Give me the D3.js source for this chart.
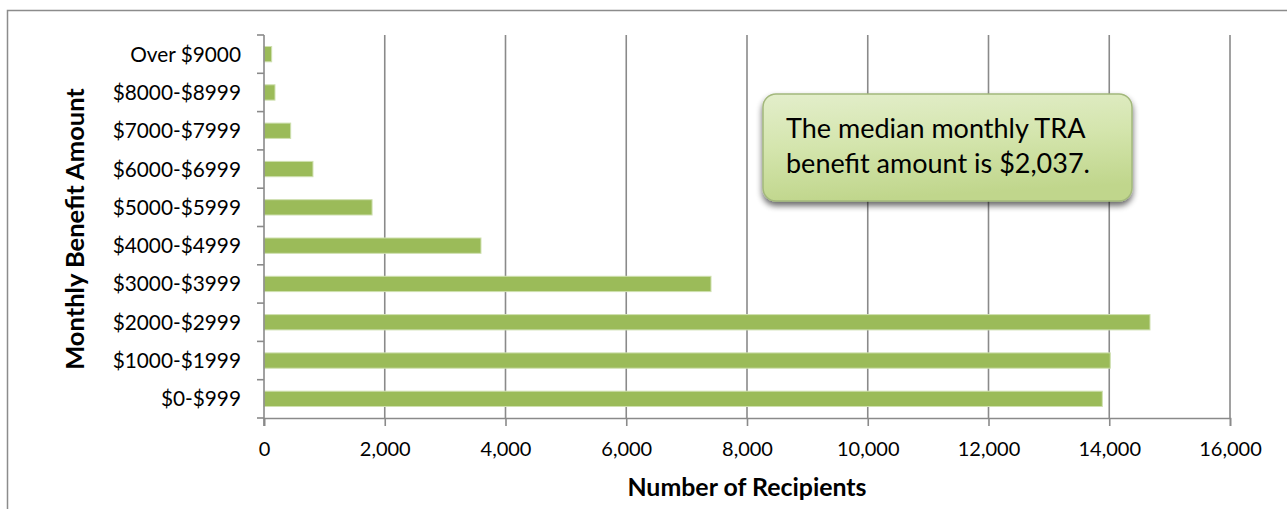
<!DOCTYPE html>
<html>
<head>
<meta charset="utf-8">
<script src="https://cdn.jsdelivr.net/npm/d3@7"></script>
<style>
  html, body { margin: 0; padding: 0; background: #fff; }
  svg { display: block; font-family: "Lato", "Open Sans", sans-serif; }
</style>
</head>
<body>
<svg id="chart" width="1287" height="509"></svg>
<script>
// Benefit brackets, listed bottom to top
const categories = ["$0-$999", "$1000-$1999", "$2000-$2999", "$3000-$3999", "$4000-$4999",
                    "$5000-$5999", "$6000-$6999", "$7000-$7999", "$8000-$8999", "Over $9000"];
const recipients = [13885, 14017, 14675, 7404, 3594, 1790, 811, 442, 182, 127];
const xTicks = [0, 2000, 4000, 6000, 8000, 10000, 12000, 14000, 16000];
const noteLines = ["The median monthly TRA", "benefit amount is $2,037."];

const svg = d3.select("#chart");
const W = 1287, H = 509;
const plot = { left: 264, right: 1230, top: 35, bottom: 418 };
const axisGrey = "#8a8a8a";

// outer chart frame
svg.append("rect")
  .attr("x", 7.5).attr("y", 10.5)
  .attr("width", W + 10).attr("height", H + 10)
  .attr("fill", "#fff").attr("stroke", "#8c8c8c").attr("stroke-width", 1.5);

const x = d3.scaleLinear().domain([0, 16000]).range([plot.left, plot.right]);
const yBand = d3.scaleBand().domain(categories.slice().reverse())
  .range([plot.top, plot.bottom]);
const y = yBand.copy().paddingInner(0.6).paddingOuter(0.3);

// vertical gridlines
svg.append("g").selectAll("line")
  .data(xTicks.slice(1))
  .join("line")
  .attr("x1", d => x(d)).attr("x2", d => x(d))
  .attr("y1", plot.top).attr("y2", plot.bottom)
  .attr("stroke", axisGrey).attr("stroke-width", 1.6);

// bars
svg.append("g").selectAll("rect")
  .data(categories.map((c, i) => ({ c, v: recipients[i] })))
  .join("rect")
  .attr("x", x(0))
  .attr("y", d => y(d.c))
  .attr("width", d => x(d.v) - x(0))
  .attr("height", y.bandwidth())
  .attr("fill", "#9bbb59")
  .attr("stroke", "#cfe0b0").attr("stroke-width", 1);

// x axis
const xAxis = d3.axisBottom(x).tickValues(xTicks).tickSize(8).tickPadding(16)
  .tickFormat(d3.format(","));
const gx = svg.append("g").attr("transform", `translate(0,${plot.bottom})`).call(xAxis);
gx.select(".domain").attr("stroke", axisGrey).attr("stroke-width", 1.6);
gx.selectAll(".tick line").attr("stroke", axisGrey).attr("stroke-width", 1.6);
gx.selectAll(".tick text").attr("font-size", 20).attr("fill", "#000")
  .attr("font-family", "Lato, sans-serif");

// y axis: ticks sit on band boundaries
const gy = svg.append("g").attr("transform", `translate(${plot.left},0)`);
gy.append("line").attr("x1", 0).attr("x2", 0).attr("y1", plot.top).attr("y2", plot.bottom + 8)
  .attr("stroke", axisGrey).attr("stroke-width", 1.6);
const bounds = yBand.domain().map(c => yBand(c)).concat([plot.bottom]);
gy.selectAll("line.tk").data(bounds).join("line").attr("class", "tk")
  .attr("x1", -7).attr("x2", 0).attr("y1", d => d).attr("y2", d => d)
  .attr("stroke", axisGrey).attr("stroke-width", 1.6);
gy.selectAll("text").data(categories).join("text")
  .attr("x", -23)
  .attr("y", d => yBand(d) + yBand.bandwidth() / 2)
  .attr("dy", "0.36em")
  .attr("text-anchor", "end")
  .attr("font-size", 20.8)
  .attr("fill", "#000")
  .text(d => d);

// axis titles
svg.append("text")
  .attr("transform", `translate(84,229) rotate(-90)`)
  .attr("text-anchor", "middle").attr("font-weight", "bold").attr("font-size", 25.5)
  .attr("fill", "#000")
  .text("Monthly Benefit Amount");
svg.append("text")
  .attr("x", 747).attr("y", 496)
  .attr("text-anchor", "middle").attr("font-weight", "bold").attr("font-size", 24.9)
  .attr("fill", "#000")
  .text("Number of Recipients");

// callout note
const defs = svg.append("defs");
const grad = defs.append("linearGradient").attr("id", "noteFill")
  .attr("x1", 0).attr("y1", 0).attr("x2", 0.2).attr("y2", 1);
grad.append("stop").attr("offset", "0%").attr("stop-color", "#e3eecb");
grad.append("stop").attr("offset", "50%").attr("stop-color", "#d4e5ad");
grad.append("stop").attr("offset", "100%").attr("stop-color", "#c0d68c");
const shadow = defs.append("filter").attr("id", "noteShadow")
  .attr("x", "-10%").attr("y", "-10%").attr("width", "120%").attr("height", "140%");
shadow.append("feGaussianBlur").attr("in", "SourceAlpha").attr("stdDeviation", 3).attr("result", "b");
shadow.append("feOffset").attr("in", "b").attr("dx", 0).attr("dy", 4).attr("result", "o");
shadow.append("feComponentTransfer").attr("in", "o").attr("result", "s")
  .append("feFuncA").attr("type", "linear").attr("slope", 0.6);
const merge = shadow.append("feMerge");
merge.append("feMergeNode").attr("in", "s");
merge.append("feMergeNode").attr("in", "SourceGraphic");

const note = svg.append("g");
note.append("rect")
  .attr("x", 763).attr("y", 94).attr("width", 369).attr("height", 107)
  .attr("rx", 13).attr("ry", 13)
  .attr("fill", "url(#noteFill)")
  .attr("stroke", "#a3b87c").attr("stroke-width", 1.5)
  .attr("filter", "url(#noteShadow)");
note.selectAll("text").data(noteLines).join("text")
  .attr("x", 786)
  .attr("y", (d, i) => 138 + i * 35)
  .attr("font-size", 27)
  .attr("fill", "#000")
  .text(d => d);
</script>
</body>
</html>
